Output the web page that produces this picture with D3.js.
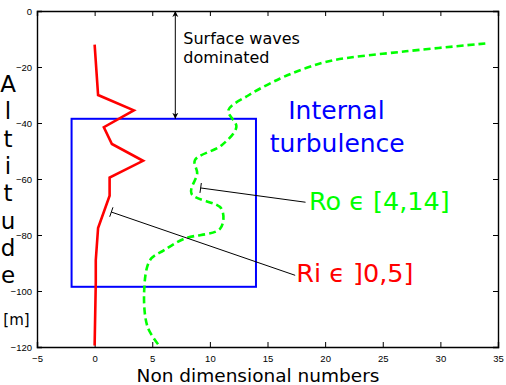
<!DOCTYPE html>
<html>
<head>
<meta charset="utf-8">
<script src="https://cdn.jsdelivr.net/npm/d3@7"></script>
<style>
  body { margin: 0; background: #fff; }
  svg { display: block; }
  .tick text { font-family: "Liberation Sans", Arial, sans-serif; font-size: 9.5px; fill: #000; }
</style>
</head>
<body>
<div id="chart"></div>
<script>
// Richardson number profile: [value, altitude]
var riValues = [0, 0.3, 3.4, 0.8, 1.5, 4.2, 1.3, 1.3, 0.3, 0.1, 0.1, 0];
var riAlt    = [-12, -30, -35.5, -41.5, -47.5, -53.5, -59.5, -66, -77.5, -89, -97, -119.5];

// Rossby number profile
var roValues = [33.9, 27, 20.7, 18.4, 16.1, 13.4, 11.6, 12.3, 11.0, 8.7, 8.9, 8.4, 11.0, 10.9, 7.8, 6.0, 4.8, 4.3, 4.6, 5.6];
var roAlt    = [-11.6, -14.4, -17.6, -20.3, -24.1, -30, -35.5, -41.4, -48, -53.3, -58, -65.2, -70.6, -77.7, -81.3, -85.5, -89, -99.8, -112.9, -119.5];

var xTicks = [-5, 0, 5, 10, 15, 20, 25, 30, 35];
var yTicks = [0, -20, -40, -60, -80, -100, -120];

// box of internal turbulence and surface layer
var boxX = [-2, 14];
var boxAlt = [-38.5, -98.5];
var surfaceX = 7;
var yLetters = ["A", "l", "t", "i", "t", "u", "d", "e"];

var margin = {top: 11, right: 8, bottom: 38, left: 37},
    width = 506 - margin.left - margin.right,
    height = 385 - margin.top - margin.bottom;

var svg = d3.select("#chart").append("svg")
    .attr("width", 506)
    .attr("height", 385);

var defs = svg.append("defs");
defs.append("marker")
    .attr("id", "arrow")
    .attr("viewBox", "0 0 10 10")
    .attr("refX", 10).attr("refY", 5)
    .attr("markerWidth", 6).attr("markerHeight", 8)
    .attr("markerUnits", "userSpaceOnUse")
    .attr("orient", "auto-start-reverse")
    .append("path")
    .attr("d", "M0,0 L10,5 L0,10 L3,5 Z")
    .attr("fill", "#000");

var g = svg.append("g")
    .attr("transform", "translate(" + margin.left + "," + margin.top + ")");

var x = d3.scaleLinear().domain([-5, 35]).range([0, width]);
var y = d3.scaleLinear().domain([0, -120]).range([0, height]);

// axes, ticks pointing inside
g.append("g")
    .attr("transform", "translate(0," + height + ")")
    .call(d3.axisBottom(x).tickValues(xTicks).tickSize(-5).tickPadding(8));
g.append("g")
    .call(d3.axisTop(x).tickValues(xTicks).tickSize(-5).tickFormat(""));
g.append("g")
    .call(d3.axisLeft(y).tickValues(yTicks).tickSize(-5).tickPadding(5));
g.append("g")
    .attr("transform", "translate(" + width + ",0)")
    .call(d3.axisRight(y).tickValues(yTicks).tickSize(-5).tickFormat(""));
g.selectAll(".domain").attr("stroke-width", 1.4);
g.selectAll(".tick line").attr("stroke-width", 1);

// internal turbulence box
g.append("rect")
    .attr("x", x(boxX[0]))
    .attr("y", y(boxAlt[0]))
    .attr("width", x(boxX[1]) - x(boxX[0]))
    .attr("height", y(boxAlt[1]) - y(boxAlt[0]))
    .attr("fill", "none")
    .attr("stroke", "#0000ff")
    .attr("stroke-width", 2);

var line = d3.line()
    .x(function(d) { return x(d[0]); })
    .y(function(d) { return y(d[1]); });

var riData = d3.zip(riValues, riAlt);
var roData = d3.zip(roValues, roAlt);

g.append("path")
    .datum(roData)
    .attr("d", line.curve(d3.curveCatmullRom.alpha(0.5)))
    .attr("fill", "none")
    .attr("stroke", "#00ff00")
    .attr("stroke-width", 2.6)
    .attr("stroke-dasharray", "7,4");

g.append("path")
    .datum(riData)
    .attr("d", line.curve(d3.curveLinear))
    .attr("fill", "none")
    .attr("stroke", "#ff0000")
    .attr("stroke-width", 2.6);

// surface waves double arrow
g.append("line")
    .attr("x1", x(surfaceX)).attr("x2", x(surfaceX))
    .attr("y1", y(0)).attr("y2", y(boxAlt[0]))
    .attr("stroke", "#000")
    .attr("stroke-width", 1)
    .attr("marker-start", "url(#arrow)")
    .attr("marker-end", "url(#arrow)");

g.append("text")
    .style("font-family", "DejaVu Sans, sans-serif")
    .style("font-size", "16px")
    .selectAll("tspan")
    .data([["Surface waves", -11.8], ["dominated", -18.7]])
    .enter().append("tspan")
    .attr("x", x(surfaceX) + 8)
    .attr("y", function(d) { return y(d[1]); })
    .text(function(d) { return d[0]; });

g.append("text")
    .attr("fill", "#0000ff")
    .style("font-family", "DejaVu Sans, sans-serif")
    .style("font-size", "25px")
    .selectAll("tspan")
    .data([["Internal", 16.8, -38.7], ["turbulence", 15.2, -50.3]])
    .enter().append("tspan")
    .attr("x", function(d) { return x(d[1]); })
    .attr("y", function(d) { return y(d[2]); })
    .text(function(d) { return d[0]; });

// annotation leader lines with a bar at the pointed end
function leader(from, to) {
    var x0 = x(from[0]), y0 = y(from[1]), x1 = x(to[0]), y1 = y(to[1]);
    var dx = x1 - x0, dy = y1 - y0, len = Math.sqrt(dx * dx + dy * dy);
    var px = -dy / len * 5, py = dx / len * 5;
    g.append("line")
        .attr("x1", x0).attr("y1", y0).attr("x2", x1).attr("y2", y1)
        .attr("stroke", "#000").attr("stroke-width", 1);
    g.append("line")
        .attr("x1", x1 - px).attr("y1", y1 - py).attr("x2", x1 + px).attr("y2", y1 + py)
        .attr("stroke", "#000").attr("stroke-width", 1);
}

leader([18.3, -68.3], [9.2, -63.2]);
leader([17.4, -94.4], [1.45, -71.8]);

g.append("text")
    .attr("x", x(18.6)).attr("y", y(-71.2))
    .attr("fill", "#00ff00")
    .style("font-family", "DejaVu Sans, sans-serif")
    .style("font-size", "25.5px")
    .text("Ro \u03f5 [4,14]");

g.append("text")
    .attr("x", x(17.5)).attr("y", y(-96.8))
    .attr("fill", "#ff0000")
    .style("font-family", "DejaVu Sans, sans-serif")
    .style("font-size", "25.5px")
    .text("Ri \u03f5 ]0,5]");

// axis titles
svg.append("text")
    .attr("x", 258)
    .attr("y", 382)
    .attr("text-anchor", "middle")
    .style("font-family", "DejaVu Sans, sans-serif")
    .style("font-size", "18.5px")
    .text("Non dimensional numbers");

svg.selectAll(".yletter")
    .data(yLetters)
    .enter().append("text")
    .attr("class", "yletter")
    .attr("x", 8)
    .attr("y", function(d, i) { return 92 + i * 27.3; })
    .attr("text-anchor", "middle")
    .style("font-family", "DejaVu Sans, sans-serif")
    .style("font-size", "23px")
    .text(function(d) { return d; });

svg.append("text")
    .attr("x", 16.5)
    .attr("y", 325)
    .attr("text-anchor", "middle")
    .style("font-family", "DejaVu Sans, sans-serif")
    .style("font-size", "15px")
    .text("[m]");
</script>
</body>
</html>
